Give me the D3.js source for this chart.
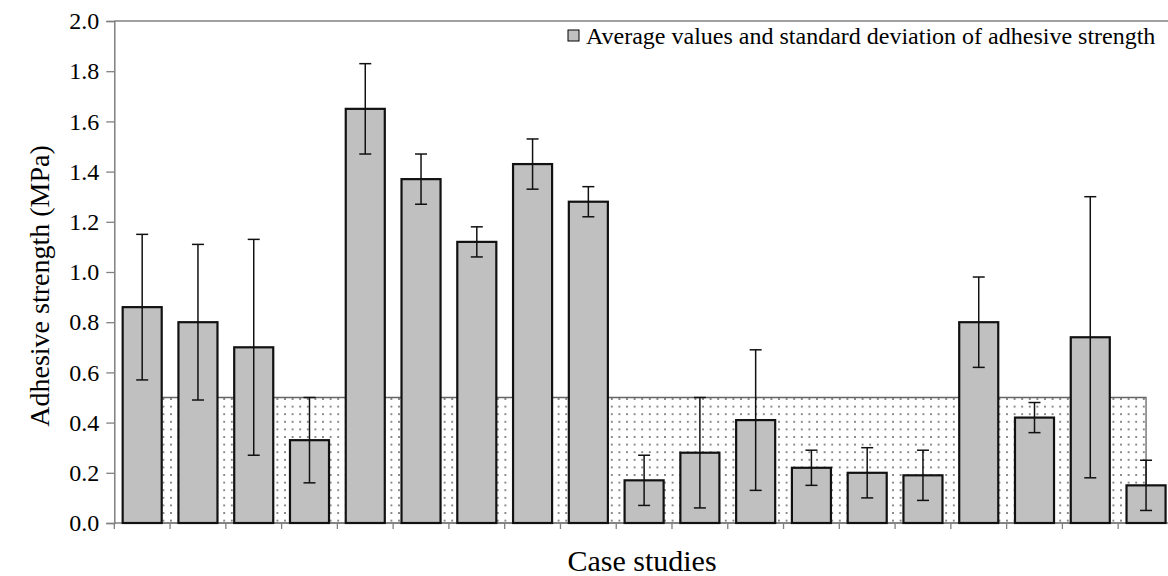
<!DOCTYPE html>
<html>
<head>
<meta charset="utf-8">
<script src="https://cdn.jsdelivr.net/npm/d3@7"></script>
<style>
  body { margin: 0; background: #fff; }
  svg text { font-family: 'Liberation Serif', 'Times New Roman', Times, serif; }
</style>
</head>
<body>
<div class="canvas"></div>
<script>
// data
const cases = d3.range(1, 20).map(d => 'C' + d);
const means = [0.86, 0.80, 0.70, 0.33, 1.65, 1.37, 1.12, 1.43, 1.28, 0.17, 0.28, 0.41, 0.22, 0.20, 0.19, 0.80, 0.42, 0.74, 0.15];
const errUp = [1.15, 1.11, 1.13, 0.50, 1.83, 1.47, 1.18, 1.53, 1.34, 0.27, 0.50, 0.69, 0.29, 0.30, 0.29, 0.98, 0.48, 1.30, 0.25];
const errLo = [0.57, 0.49, 0.27, 0.16, 1.47, 1.27, 1.06, 1.33, 1.22, 0.07, 0.06, 0.13, 0.15, 0.10, 0.09, 0.62, 0.36, 0.18, 0.05];
const limit = 0.5; // dotted reference band
const yTicks = [0, 0.2, 0.4, 0.6, 0.8, 1.0, 1.2, 1.4, 1.6, 1.8, 2.0];

const W = 1168, H = 576;
const m = { left: 114.3, top: 21, bottom: 53 };
const band = 55.77;
const serif = "'Liberation Serif', 'Times New Roman', Times, serif";

const svg = d3.select('.canvas').append('svg')
  .attr('width', W).attr('height', H)
  .attr('font-family', serif);

const x = d3.scaleBand()
  .domain(cases)
  .range([m.left, m.left + band * cases.length])
  .paddingInner(0.3).paddingOuter(0.15);

const y = d3.scaleLinear().domain([0, 2]).range([H - m.bottom, m.top]);

// dot pattern for the reference area
const defs = svg.append('defs');
const pat = defs.append('pattern')
  .attr('id', 'dots').attr('patternUnits', 'userSpaceOnUse')
  .attr('width', 7.6).attr('height', 7.6);
pat.append('rect').attr('x', 3).attr('y', 3).attr('width', 1.6).attr('height', 1.6).attr('fill', '#555');

const cx = d => x(d) + x.bandwidth() / 2;

// reference area 0..0.5 from first bar centre to last bar centre
svg.append('path')
  .datum(cases)
  .attr('fill', 'url(#dots)')
  .attr('stroke', '#666')
  .attr('stroke-width', 1.3)
  .attr('d', d3.area().x(d => cx(d)).y0(y(0)).y1(y(limit)));

// frame: top line
svg.append('line')
  .attr('x1', m.left).attr('x2', W).attr('y1', y(2)).attr('y2', y(2))
  .attr('stroke', '#808080').attr('stroke-width', 1.5);

// y axis
const yAxis = svg.append('g')
  .attr('transform', `translate(${m.left},0)`)
  .call(d3.axisLeft(y).tickValues(yTicks).tickFormat(d3.format('.1f')).tickSize(8).tickPadding(7));
yAxis.attr('font-family', serif);
yAxis.select('.domain').attr('stroke', '#808080').attr('stroke-width', 1.5);
yAxis.selectAll('.tick line').attr('stroke', '#808080').attr('stroke-width', 1.3);
yAxis.selectAll('.tick text').attr('font-size', 24).attr('fill', '#000')
  .attr('font-family', serif);

// x axis: ticks at band boundaries
const bounds = d3.range(cases.length + 1).map(i => m.left + i * band);
const xAxisG = svg.append('g');
xAxisG.append('line')
  .attr('x1', m.left).attr('x2', W).attr('y1', y(0)).attr('y2', y(0))
  .attr('stroke', '#808080').attr('stroke-width', 1.5);
xAxisG.selectAll('.xt').data(bounds).enter().append('line')
  .attr('class', 'xt')
  .attr('x1', d => d).attr('x2', d => d)
  .attr('y1', y(0)).attr('y2', y(0) + 6)
  .attr('stroke', '#808080').attr('stroke-width', 1.3);

// bars
svg.selectAll('.bar').data(cases).enter().append('rect')
  .attr('class', 'bar')
  .attr('x', d => x(d))
  .attr('y', (d, i) => y(means[i]))
  .attr('width', x.bandwidth())
  .attr('height', (d, i) => y(0) - y(means[i]))
  .attr('fill', '#c0c0c0')
  .attr('stroke', '#111')
  .attr('stroke-width', 2.2);

// error bars
const eb = svg.selectAll('.err').data(cases).enter().append('g').attr('class', 'err')
  .attr('stroke', '#111').attr('stroke-width', 1.5);
eb.append('line')
  .attr('x1', d => cx(d)).attr('x2', d => cx(d))
  .attr('y1', (d, i) => y(errUp[i])).attr('y2', (d, i) => y(errLo[i]));
eb.append('line')
  .attr('x1', d => cx(d) - 6).attr('x2', d => cx(d) + 6)
  .attr('y1', (d, i) => y(errUp[i])).attr('y2', (d, i) => y(errUp[i]));
eb.append('line')
  .attr('x1', d => cx(d) - 6).attr('x2', d => cx(d) + 6)
  .attr('y1', (d, i) => y(errLo[i])).attr('y2', (d, i) => y(errLo[i]));

// axis titles
svg.append('text')
  .attr('transform', `translate(49, 286) rotate(-90)`)
  .attr('text-anchor', 'middle')
  .attr('font-family', serif)
  .attr('font-size', 28)
  .text('Adhesive strength (MPa)');

svg.append('text')
  .attr('x', 642).attr('y', 571)
  .attr('text-anchor', 'middle')
  .attr('font-family', serif)
  .attr('font-size', 30)
  .text('Case studies');

// legend
const lg = svg.append('g').attr('transform', 'translate(568, 30)');
lg.append('rect').attr('width', 11).attr('height', 11)
  .attr('fill', '#c0c0c0').attr('stroke', '#000').attr('stroke-width', 1);
lg.append('text').attr('x', 18).attr('y', 13.5)
  .attr('font-family', serif)
  .attr('font-size', 24)
  .text('Average values and standard deviation of adhesive strength');
</script>
</body>
</html>
